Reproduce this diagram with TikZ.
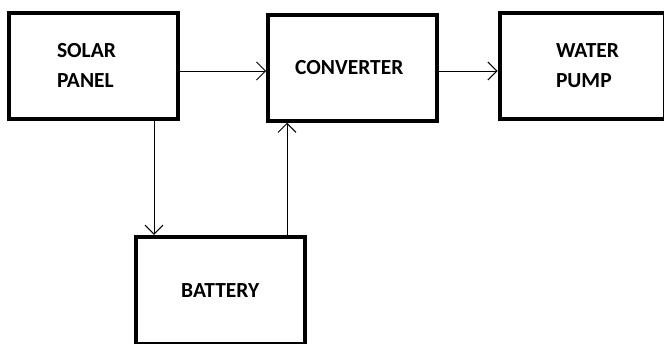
\documentclass[tikz,border=0pt]{standalone}
\usepackage{fontspec}
\setmainfont{Carlito}
\usetikzlibrary{arrows.meta}
\begin{document}
\begin{tikzpicture}[x=1pt,y=-1pt,line width=1pt,
    blk/.style={draw,line width=4pt,minimum width=169pt,minimum height=106pt,
      align=left,font=\bfseries\fontsize{21.5}{30}\selectfont},
    >={Straight Barb[length=9pt,width=18pt]}]
        \clip (0,0) rectangle (664,343);
        \node[blk,text width=73.5pt] (S) at (93.75,65.75){SOLAR\\PANEL};
        \node[blk,text width=115pt] (C) at (352.7,67.75){CONVERTER};
        \node[blk,minimum width=165.5pt,text width=52.5pt] (P) at (582.25,65.7){WATER\\PUMP};
        \node[blk,minimum height=107pt] (B) at (220.25,290.3){BATTERY};

        \draw (S.east |- 0,71) edge[->] (C.west |- 0,71);
        \draw (C.east |- 0,71) edge[->] (P.west |- 0,71);
        \draw (S.south -| 154,0) edge[->] (B.north -| 154,0);
        \draw (B.north -| 287,0) edge[->] (C.south -| 287,0);
      \end{tikzpicture}
\end{document}
